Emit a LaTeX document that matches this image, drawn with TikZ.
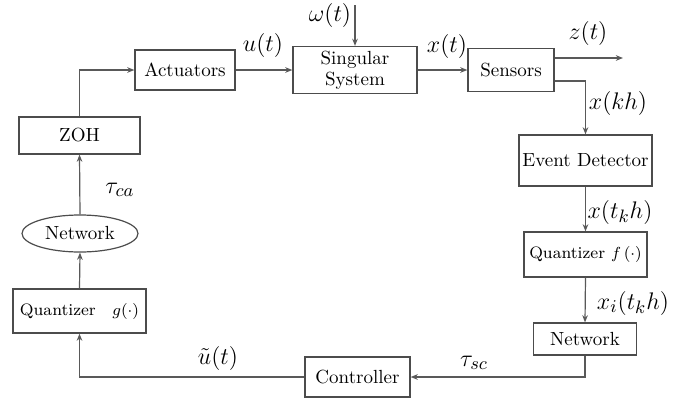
\documentclass[tikz,border=0pt]{standalone}
\usetikzlibrary{arrows.meta,calc,shapes.geometric}
\begin{document}
\begin{tikzpicture}[x=0.5pt,y=-0.5pt,
  blk/.style={draw=black!70,line width=0.6pt,rectangle,inner sep=0pt,font=\fontsize{9.5}{11}\selectfont,align=center},
  qbox/.style={blk,font=\fontsize{8.3}{10}\selectfont},
  arr/.style={draw=black!65,line width=0.6pt,-{Stealth[length=3.6pt,width=2.8pt]}},
  lbl/.style={font=\fontsize{12.5}{15}\selectfont,inner sep=0pt}]
\useasboundingbox (0,0) rectangle (686,402);
\node[blk,minimum width=50pt,minimum height=20pt] (act) at (185,70) {Actuators};
\node[blk,minimum width=62pt,minimum height=23.5pt,font=\fontsize{9.5}{10.5}\selectfont] (sing) at (355,70) {Singular\\System};
\node[blk,minimum width=43pt,minimum height=21.5pt] (sens) at (511,70) {Sensors};
\node[blk,minimum width=66.5pt,minimum height=25.5pt] (ev) at (585.5,160.5) {Event Detector};
\node[qbox,minimum width=61.5pt,minimum height=22.5pt] (qf) at (585.5,254.5) {Quantizer $f\,(\cdot)$};
\node[blk,minimum width=51.5pt,minimum height=16pt] (netr) at (585,339) {Network};
\node[blk,minimum width=52.5pt,minimum height=20pt] (ctrl) at (357.5,377) {Controller};
\node[qbox,minimum width=66.5pt,minimum height=22pt] (qg) at (79.5,311) {Quantizer\quad $g(\cdot)$};
\node[blk,ellipse,minimum width=58pt,minimum height=18.5pt] (netl) at (80,233.5) {Network};
\node[blk,minimum width=60.5pt,minimum height=18.5pt] (zoh) at (79.5,135.5) {ZOH};
\coordinate (wtop) at (355,5);
\coordinate (zend) at (623,58);
\coordinate (zst) at (sens.east |- zend);
\coordinate (sst) at ($(sens.east)+(0,11)$);
% connectors
\draw[arr] (zoh.north) |- (act.west);
\draw[arr] (act.east) -- (sing.west);
\draw[arr] (wtop) -- (sing.north);
\draw[arr] (sing.east) -- (sens.west);
\draw[arr] (zst) -- (zend);
\draw[arr] (sst) -| (ev.north);
\draw[arr] (ev.south) -- (qf.north);
\draw[arr] (qf.south) -- (netr.north);
\draw[arr] (netr.south) |- (ctrl.east);
\draw[arr] (ctrl.west) -| (qg.south);
\draw[arr] (qg.north) -- (netl.south);
\draw[arr] (netl.north) -- (zoh.south);
% labels
\node[lbl] (lw) at (330,15) {$\omega(t)$};
\node[lbl] (lu) at (263,45) {$u(t)$};
\node[lbl] (lx) at (447,46) {$x(t)$};
\node[lbl] (lz) at (588,33) {$z(t)$};
\node[lbl] (lkh) at (618,103) {$x(kh)$};
\node[lbl] (ltk) at (620,212) {$x(t_kh)$};
\node[lbl] (lxi) at (633,303) {$x_i(t_kh)$};
\node[lbl] (lca) at (120,190) {$\tau_{ca}$};
\node[lbl] (lut) at (218,358) {$\tilde{u}(t)$};
\node[lbl] (lsc) at (474,363) {$\tau_{sc}$};
\end{tikzpicture}
\end{document}
